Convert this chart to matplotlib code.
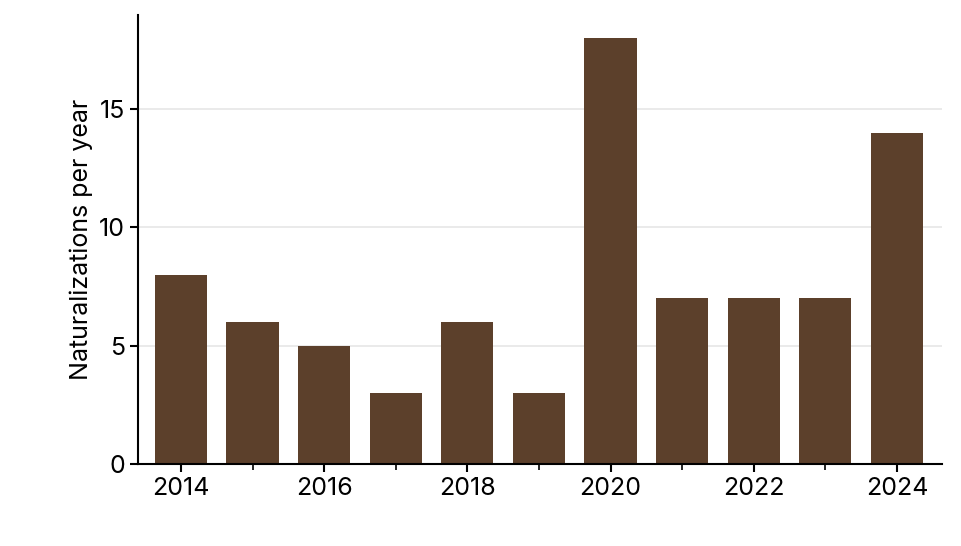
import matplotlib
matplotlib.use("Agg")
import matplotlib.pyplot as plt

years = [2014, 2015, 2016, 2017, 2018, 2019, 2020, 2021, 2022, 2023, 2024]
counts = [8, 6, 5, 3, 6, 3, 18, 7, 7, 7, 14]
ylabel = "Naturalizations per year"

plt.rcParams['font.family'] = ['Inter', 'DejaVu Sans']
fig = plt.figure(figsize=(9.62, 5.46), dpi=100)
ax = fig.add_axes([138/962, 1-464/546, (942-138)/962, (464-15)/546])
ax.bar(years, counts, width=0.73, color='#5c402b', zorder=2)
ax.set_xlim(2013.4, 2024.63)
ax.set_ylim(0, 18.97)
ax.set_yticks([0, 5, 10, 15])
ax.set_xticks([2014, 2016, 2018, 2020, 2022, 2024])
ax.set_xticks([2015, 2017, 2019, 2021, 2023], minor=True)
ax.grid(axis='y', color='#e6e6e6', linewidth=1.2, zorder=0)
for s in ['top', 'right']:
    ax.spines[s].set_visible(False)
for s in ['left', 'bottom']:
    ax.spines[s].set_linewidth(1.5)
ax.tick_params(axis='both', labelsize=18, width=1.5, length=6)
ax.tick_params(axis='x', which='minor', width=1.2, length=4)
ax.set_ylabel(ylabel, fontsize=18)
fig.savefig("out.png", dpi=100)
